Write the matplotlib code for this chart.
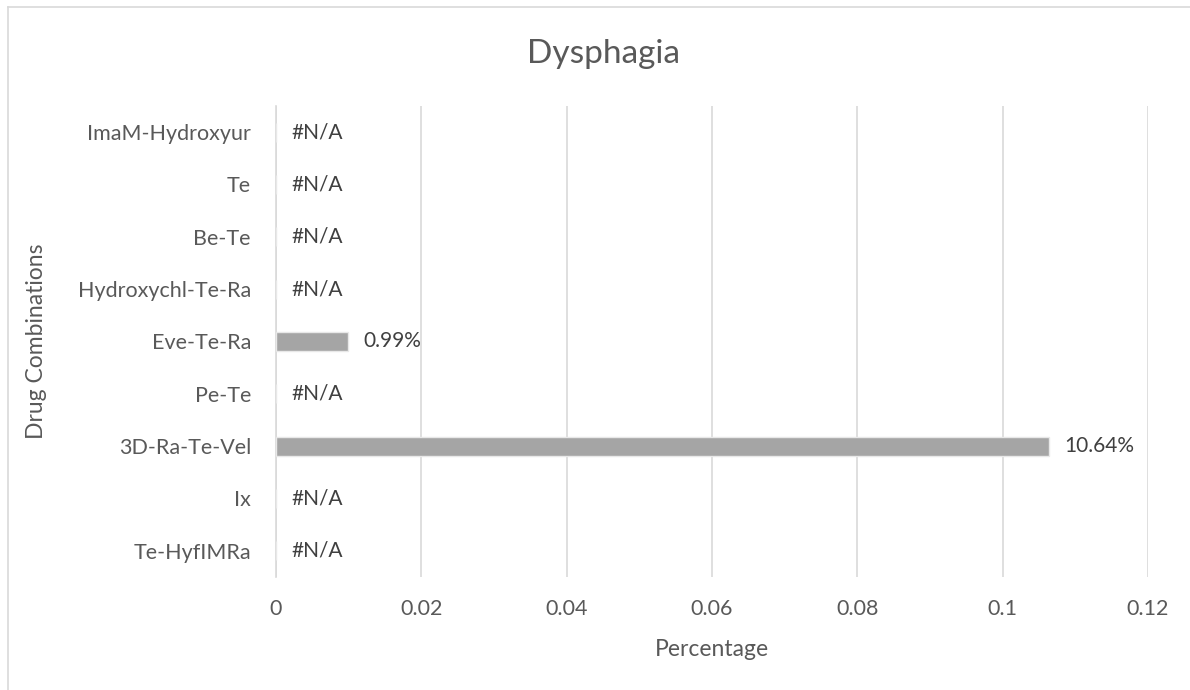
import numpy as np
import matplotlib
matplotlib.use("Agg")
import matplotlib.pyplot as plt
from matplotlib.lines import Line2D

plt.rcParams['font.family'] = ['Lato', 'DejaVu Sans']

# categories listed bottom to top, like Excel does
drugs = ['Te-HyfIMRa', 'Ix', '3D-Ra-Te-Vel', 'Pe-Te', 'Eve-Te-Ra',
         'Hydroxychl-Te-Ra', 'Be-Te', 'Te', 'ImaM-Hydroxyur']
pct = [np.nan, np.nan, 0.1064, np.nan, 0.0099, np.nan, np.nan, np.nan, np.nan]
xticks = [0, 0.02, 0.04, 0.06, 0.08, 0.1, 0.12]
xtick_labels = ['0', '0.02', '0.04', '0.06', '0.08', '0.1', '0.12']

txt = '#595959'
grid = '#D9D9D9'

fig = plt.figure(figsize=(11.9, 6.9), dpi=100)
ax = fig.add_axes([0.2319, 0.1638, 0.7328, 0.6826])

y = np.arange(len(drugs))
vals = np.nan_to_num(pct)
ax.barh(y, vals, height=0.36, color='#A5A5A5', edgecolor='#E8E8E8', linewidth=1, zorder=3)

for yi, v in zip(y, pct):
    if np.isnan(v):
        label, xv = '#N/A', 0
    else:
        label, xv = f'{v*100:.2f}%', v
    ax.annotate(label, (xv, yi), xytext=(11, 0), textcoords='offset points',
                va='center', ha='left', fontsize=15, color='#404040')

ax.set_xlim(0, 0.12)
ax.set_ylim(-0.5, len(drugs) - 0.5)
ax.set_xticks(xticks)
ax.set_xticklabels(xtick_labels)
ax.set_yticks(y)
ax.set_yticklabels(drugs)
ax.tick_params(axis='both', length=0, labelsize=15.5, colors=txt)
ax.tick_params(axis='x', pad=16)
ax.tick_params(axis='y', pad=18)
ax.grid(axis='x', color=grid, linewidth=1.2, zorder=0)
for s in ['top', 'right', 'bottom']:
    ax.spines[s].set_visible(False)
ax.spines['left'].set_color(grid)
ax.spines['left'].set_linewidth(1.2)

ax.set_xlabel('Percentage', fontsize=16.5, color=txt, labelpad=14)
ax.set_ylabel('Drug Combinations', fontsize=16.5, color=txt, labelpad=22)
fig.text(0.507, 0.922, 'Dysphagia', ha='center', va='center', fontsize=24, color=txt)

# chart area border (only top and left fall inside the image)
fig.add_artist(Line2D([8/1190, 8/1190], [0, 1 - 7/690], transform=fig.transFigure, color=grid, lw=1.2))
fig.add_artist(Line2D([8/1190, 1], [1 - 7/690, 1 - 7/690], transform=fig.transFigure, color=grid, lw=1.2))

fig.savefig('out.png', dpi=100)
